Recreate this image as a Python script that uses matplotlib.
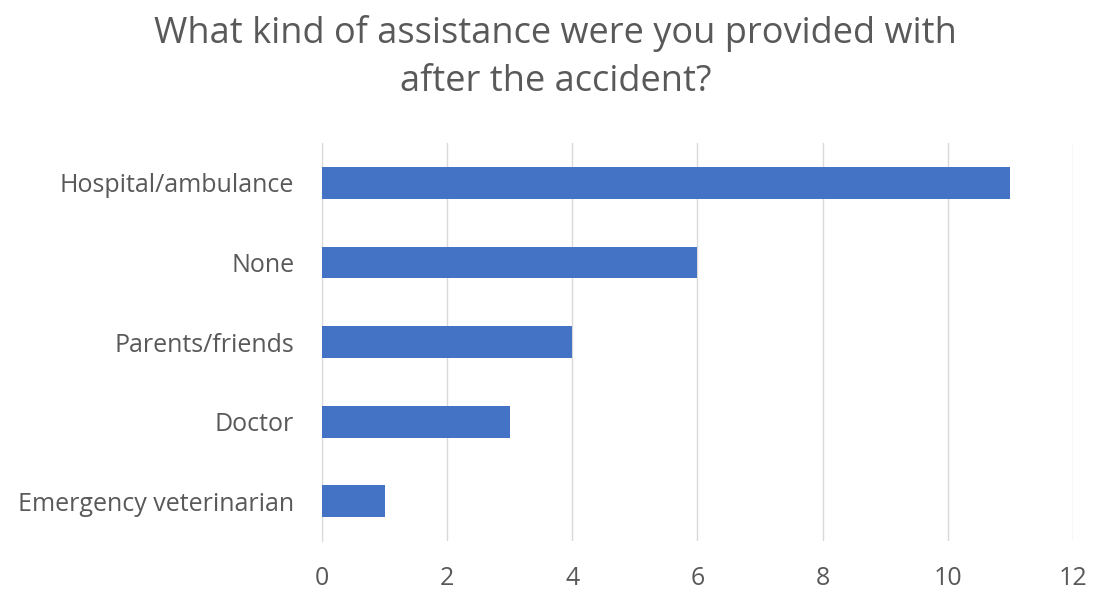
import matplotlib.pyplot as plt

categories = ["Hospital/ambulance", "None", "Parents/friends", "Doctor", "Emergency veterinarian"]
counts = [11, 6, 4, 3, 1]
xticks = [0, 2, 4, 6, 8, 10, 12]

plt.rcParams['font.family'] = ['Open Sans', 'DejaVu Sans']

fig = plt.figure(figsize=(10.94, 5.92), dpi=100)
ax = fig.add_axes([0.2943, 0.0861, 0.6865, 0.6723])

pos = list(range(len(categories)))
ax.barh(pos, counts, height=0.4, color="#4472C4", zorder=3)
ax.set_ylim(len(categories) - 0.5, -0.5)
ax.set_xlim(0, 12)
ax.set_xticks(xticks)
ax.set_yticks(pos)
ax.set_yticklabels(categories)

ax.grid(axis="x", color="#D9D9D9", linewidth=1, zorder=0)
for s in ["top", "right", "bottom"]:
    ax.spines[s].set_visible(False)
ax.spines["left"].set_color("#D9D9D9")
ax.tick_params(axis="both", length=0, labelsize=18, labelcolor="#595959")
ax.tick_params(axis="x", pad=18)
ax.tick_params(axis="y", pad=20)

fig.text(0.508, 0.975, "What kind of assistance were you provided with\nafter the accident?",
         ha="center", va="top", fontsize=26, color="#595959", linespacing=1.45)

fig.savefig("out.png", dpi=100)
